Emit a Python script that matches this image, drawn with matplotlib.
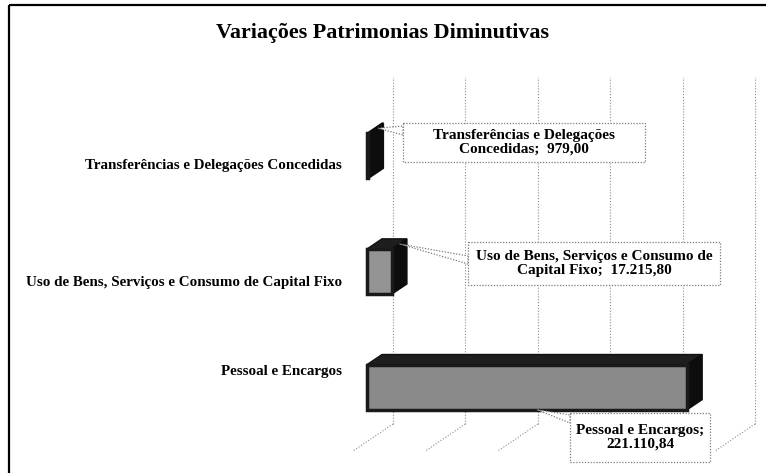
import matplotlib
matplotlib.use('Agg')
import matplotlib.pyplot as plt
import numpy as np
from matplotlib.patches import Polygon, Rectangle
from matplotlib.transforms import Affine2D, IdentityTransform

title = 'Variações Patrimonias Diminutivas'
categories = ['Pessoal e Encargos',
              'Uso de Bens, Serviços e Consumo de Capital Fixo',
              'Transferências e Delegações Concedidas']
values = [221110.84, 17215.80, 979.00]
value_labels = ['Pessoal e Encargos;\n221.110,84',
                'Uso de Bens, Serviços e Consumo de\nCapital Fixo;  17.215,80',
                'Transferências e Delegações\nConcedidas;  979,00']
grid_ticks = np.arange(0, 250001, 50000)

W, H = 766, 473
plt.rcParams['font.family'] = ['Liberation Serif', 'DejaVu Serif']

fig = plt.figure(figsize=(W / 100, H / 100), dpi=100)
# axes = back wall of the 3d chart
ax = fig.add_axes([393 / W, 1 - 424 / H, 362 / W, 347 / H])
ax.set_xlim(0, 250000)
ax.set_ylim(-0.47, 2.53)
ax.axis('off')

# image pixel coords (y down) -> display
img = Affine2D().scale(1, -1).translate(0, H)
disp = IdentityTransform()

depth = np.array([-40.0, -27.0])   # back wall -> front edge of floor, in px
t_back, t_front = 0.275, 0.65
bar_h = 0.39
grid_kw = dict(color='#8c8c8c', lw=0.8, linestyle=(0, (1, 1.6)), clip_on=False)


def to_disp(x, y):
    return ax.transData.transform((x, y))


# gridlines on wall and floor
y0, y1 = ax.get_ylim()
for g in grid_ticks:
    ax.plot([g, g], [y0, y1], zorder=1, **grid_kw)
    p = to_disp(g, y0)
    q = p + depth
    ax.plot([p[0], q[0]], [p[1], q[1]], transform=disp, zorder=1, **grid_kw)

# 3d bars
front_cols = ['#8a8a8a', '#949494', '#8a8a8a']
anchors = []
for i, v in enumerate(values):
    A = to_disp(0, i - bar_h / 2)
    B = to_disp(v, i - bar_h / 2)
    C = to_disp(v, i + bar_h / 2)
    D = to_disp(0, i + bar_h / 2)
    f = depth * t_front
    b = depth * t_back
    top = Polygon([D + f, C + f, C + b, D + b], closed=True, transform=disp,
                  facecolor='#1e1e1e', edgecolor='#111111', lw=1, clip_on=False, zorder=3)
    side = Polygon([B + f, C + f, C + b, B + b], closed=True, transform=disp,
                   facecolor='#0d0d0d', edgecolor='#0d0d0d', lw=1, clip_on=False, zorder=3)
    front = Polygon([A + f, B + f, C + f, D + f], closed=True, transform=disp,
                    facecolor=front_cols[i], edgecolor='#1a1a1a', lw=2.5,
                    clip_on=False, zorder=4)
    for p in (top, side, front):
        ax.add_patch(p)
    anchors.append((A + f, B + f, C + f, D + f, C + b))

# category labels
cat_pos = [371, 282, 165]
for name, yy in zip(categories, cat_pos):
    fig.text(342, yy, name, transform=img, ha='right', va='center',
             fontsize=10.8, fontweight='bold')

# data label callouts (image px: left, top, right, bottom)
boxes = [(570, 413, 710, 462), (468, 242, 720, 285), (403, 123, 645, 162)]
box_kw = dict(facecolor='white', edgecolor='#7a7a7a', lw=0.9,
              linestyle=(0, (1, 1.3)), transform=img, clip_on=False)
for i, (lab, bx) in enumerate(zip(value_labels, boxes)):
    l, t, r, btm = bx
    A, B, C, D, Cb = anchors[i]
    if i == 0:
        tip = img.inverted().transform((A + B) / 2 + np.array([10, 0]))
        wedge = [tip, (l, t + 2), (l, t + 10)]
    elif i == 1:
        tip = img.inverted().transform((C + Cb) / 2)
        wedge = [tip, (l, t + 14), (l, t + 22)]
    else:
        tip = img.inverted().transform((C + Cb) / 2 + np.array([2, 0]))
        wedge = [tip, (l, t + 3), (l, t + 12)]
    fig.patches.append(Polygon(wedge, closed=True, zorder=5, **box_kw))
    fig.patches.append(Rectangle((l, t), r - l, btm - t, zorder=6, **box_kw))
    fig.text((l + r) / 2, (t + btm) / 2, lab, transform=img, ha='center',
             va='center', fontsize=11, fontweight='bold', linespacing=1.1,
             zorder=7)

fig.text(383, 33, title, transform=img, ha='center', va='center',
         fontsize=15.8, fontweight='bold')

# chart border
fig.patches.append(Rectangle((9, 5), W, H, transform=img, fill=False,
                             edgecolor='black', lw=1.6, clip_on=False))

fig.savefig('out.png', dpi=100)
